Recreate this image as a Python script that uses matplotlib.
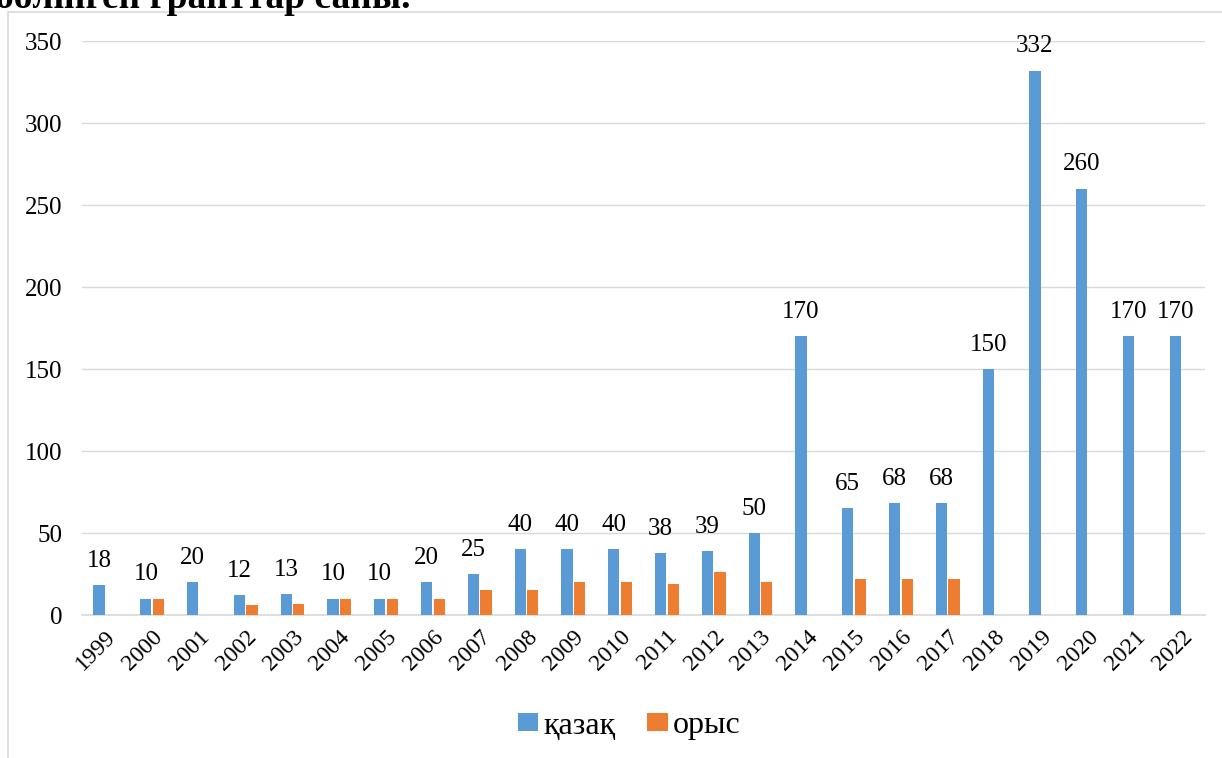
import matplotlib
matplotlib.use("Agg")
import matplotlib.pyplot as plt
import numpy as np
from matplotlib.patches import Rectangle

years = ["1999", "2000", "2001", "2002", "2003", "2004", "2005", "2006", "2007", "2008",
         "2009", "2010", "2011", "2012", "2013", "2014", "2015", "2016", "2017", "2018",
         "2019", "2020", "2021", "2022"]
kazakh = [18, 10, 20, 12, 13, 10, 10, 20, 25, 40, 40, 40, 38, 39, 50, 170, 65, 68, 68, 150,
          332, 260, 170, 170]
russian = [0, 10, 0, 6, 7, 10, 10, 10, 15, 15, 20, 20, 19, 26, 20, 0, 22, 22, 22, 0,
           0, 0, 0, 0]
series_names = ["қазақ", "орыс"]
title_text = "бөлінген гранттар саны."
yticks = [0, 50, 100, 150, 200, 250, 300, 350]

plt.rcParams['font.family'] = ['Liberation Serif', 'DejaVu Serif']

fig = plt.figure(figsize=(12.22, 7.58), dpi=100)
ax = fig.add_axes([82 / 1222, 1 - 615 / 758, (1205 - 82) / 1222, (615 - 41) / 758])

blue = "#5B9BD5"
orange = "#ED7D31"
x = np.arange(len(years))
w = 0.24
b1 = ax.bar(x - 0.135, kazakh, width=w, color=blue, label=series_names[0], zorder=3)
b2 = ax.bar(x + 0.135, [v if v > 0 else np.nan for v in russian], width=w, color=orange,
            label=series_names[1], zorder=3)

for xi, v in zip(x, kazakh):
    ax.text(xi - 0.135, v + 8, str(v), ha="center", va="bottom", fontsize=18)

ax.set_xlim(-0.5, len(years) - 0.5)
ax.set_ylim(0, 350)
ax.set_yticks(yticks)
ax.set_yticklabels([str(t) for t in yticks], fontsize=18)
ax.set_xticks(x)
ax.set_xticklabels(years, rotation=45, ha="right", rotation_mode="anchor", fontsize=17)
ax.tick_params(axis="both", length=0)
ax.tick_params(axis="y", pad=14)
ax.tick_params(axis="x", pad=8)
ax.grid(axis="y", color="#D9D9D9", linewidth=1, zorder=0)
for s in ["top", "right", "left"]:
    ax.spines[s].set_visible(False)
ax.spines["bottom"].set_color("#D9D9D9")
ax.spines["bottom"].set_linewidth(1.2)

leg = fig.legend(handles=[b1, b2], labels=series_names, loc="center",
                 bbox_to_anchor=(629 / 1222, 1 - 726 / 758), ncol=2, frameon=False,
                 fontsize=23, handlelength=0.65, handleheight=0.5, handletextpad=0.15,
                 columnspacing=1.0)

# outer chart frame
fig.patches.append(Rectangle((8 / 1222, -0.01), 1.02, 1 - 12 / 758 + 0.01,
                             transform=fig.transFigure, fill=False,
                             edgecolor="#D9D9D9", linewidth=1.2))

# cut-off title at top (cropped in the reference as well)
fig.text(-0.004, 1 + 2 / 758, title_text, ha="left", va="center", fontsize=27,
         fontweight="bold")

fig.savefig("out.png", dpi=100)
